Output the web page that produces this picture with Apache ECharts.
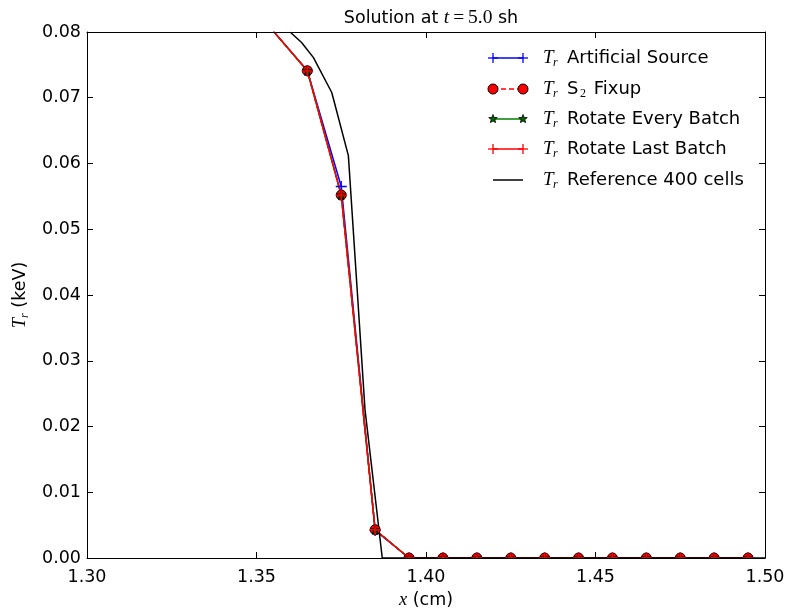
<!DOCTYPE html>
<html>
<head>
<meta charset="utf-8">
<script src="https://cdn.jsdelivr.net/npm/echarts@6/dist/echarts.min.js"></script>
<style>html,body{margin:0;padding:0;background:#fff}#c{width:789px;height:610px}</style>
</head>
<body>
<div id="c"></div>
<script>
// ---- data ----
const cellX = [1.355, 1.365, 1.375, 1.385, 1.395, 1.405, 1.415, 1.425, 1.435, 1.445, 1.455, 1.465, 1.475, 1.485, 1.495];
const artificialSource = [0.0801, 0.0741, 0.0565, 0.0042, 0, 0, 0, 0, 0, 0, 0, 0, 0, 0, 0];
const s2Fixup = [0.0801, 0.0741, 0.0552, 0.0043, 0, 0, 0, 0, 0, 0, 0, 0, 0, 0, 0];
const rotateEveryBatch = [0.0801, 0.0741, 0.0552, 0.0043, 0, 0, 0, 0, 0, 0, 0, 0, 0, 0, 0];
const rotateLastBatch = [0.0801, 0.0741, 0.0552, 0.0043, 0, 0, 0, 0, 0, 0, 0, 0, 0, 0, 0];
const refX = [1.3599, 1.3633, 1.3668, 1.3722, 1.3771, 1.3797, 1.3820, 1.3871, 1.4200, 1.4600, 1.5000];
const refT = [0.0800, 0.0784, 0.0761, 0.0708, 0.0612, 0.0408, 0.0226, 0.0000, 0.0000, 0.0000, 0.0000];
const xTicks = [1.30, 1.35, 1.40, 1.45, 1.50];
const yTicks = [0.00, 0.01, 0.02, 0.03, 0.04, 0.05, 0.06, 0.07, 0.08];
const legendNames = ['Artificial Source', 'S2 Fixup', 'Rotate Every Batch', 'Rotate Last Batch', 'Reference 400 cells'];

const FONT = 'DejaVu Sans';
const MATH = 'Liberation Serif';
const FS = 17.5;
const LFS = 18;
const pair = (xs, ys) => xs.map((x, i) => [x, ys[i]]);

const PLUS = 'path://M0,5L10,5M5,0L5,10';
const STAR = 'path://M5,0L6.18,3.38L9.76,3.45L6.9,5.62L7.94,9.05L5,7L2.06,9.05L3.1,5.62L0.24,3.45L3.82,3.38Z';

const GL = 87, GT = 32, GW = 678, GH = 526;

const chart = echarts.init(document.getElementById('c'), null, {renderer: 'canvas'});

// legend graphic
const rows = [58, 89, 119, 149, 180];
const lx0 = 493, lx1 = 523;
function plus(cx, cy, color) {
  return [
    {type: 'line', shape: {x1: cx - 5, y1: cy, x2: cx + 5, y2: cy}, style: {stroke: color, lineWidth: 1.3}, z: 20},
    {type: 'line', shape: {x1: cx, y1: cy - 5, x2: cx, y2: cy + 5}, style: {stroke: color, lineWidth: 1.3}, z: 20}
  ];
}
function starPts(cx, cy, R, r) {
  const pts = [];
  for (let k = 0; k < 10; k++) {
    const a = -Math.PI / 2 + k * Math.PI / 5;
    const rr = k % 2 === 0 ? R : r;
    pts.push([cx + rr * Math.cos(a), cy + rr * Math.sin(a)]);
  }
  return pts;
}
const g = [];
// white masks to clip markers outside plot area
g.push({type: 'rect', shape: {x: 0, y: GT + GH + 0.5, width: 789, height: 60}, style: {fill: '#fff'}, z: 3, silent: true});
g.push({type: 'rect', shape: {x: 0, y: 0, width: 789, height: GT - 0.5}, style: {fill: '#fff'}, z: 3, silent: true});
// row 0 blue +
g.push({type: 'line', shape: {x1: lx0, y1: rows[0], x2: lx1, y2: rows[0]}, style: {stroke: '#0000ff', lineWidth: 1.5}, z: 20});
g.push(...plus(lx0, rows[0], '#0000ff'), ...plus(lx1, rows[0], '#0000ff'));
// row 1 red dashed circles
g.push({type: 'line', shape: {x1: lx0, y1: rows[1], x2: lx1, y2: rows[1]}, style: {stroke: '#ff0000', lineWidth: 1.5, lineDash: [5, 3]}, z: 20});
g.push({type: 'circle', shape: {cx: lx0, cy: rows[1], r: 5}, style: {fill: '#ff0000', stroke: '#000', lineWidth: 1}, z: 21});
g.push({type: 'circle', shape: {cx: lx1, cy: rows[1], r: 5}, style: {fill: '#ff0000', stroke: '#000', lineWidth: 1}, z: 21});
// row 2 green stars
g.push({type: 'line', shape: {x1: lx0, y1: rows[2], x2: lx1, y2: rows[2]}, style: {stroke: '#008000', lineWidth: 1.5}, z: 20});
g.push({type: 'polygon', shape: {points: starPts(lx0, rows[2], 4.5, 1.9)}, style: {fill: '#006400', stroke: '#000', lineWidth: 0.8}, z: 21});
g.push({type: 'polygon', shape: {points: starPts(lx1, rows[2], 4.5, 1.9)}, style: {fill: '#006400', stroke: '#000', lineWidth: 0.8}, z: 21});
// row 3 red +
g.push({type: 'line', shape: {x1: lx0, y1: rows[3], x2: lx1, y2: rows[3]}, style: {stroke: '#ff0000', lineWidth: 1.5}, z: 20});
g.push(...plus(lx0, rows[3], '#ff0000'), ...plus(lx1, rows[3], '#ff0000'));
// row 4 black
g.push({type: 'line', shape: {x1: lx0, y1: rows[4], x2: lx1, y2: rows[4]}, style: {stroke: '#000', lineWidth: 1.5}, z: 20});
// legend texts
rows.forEach((y, i) => {
  g.push({type: 'text', x: 543, y: y, style: {text: 'T', font: 'italic ' + (LFS + 1) + 'px "' + MATH + '"', fill: '#000', verticalAlign: 'middle'}, z: 20});
  g.push({type: 'text', x: 553, y: y + 5, style: {text: 'r', font: 'italic 12px "' + MATH + '"', fill: '#000', verticalAlign: 'middle'}, z: 20});
  if (i === 1) {
    g.push({type: 'text', x: 567, y: y, style: {text: 'S', font: LFS + 'px "' + FONT + '"', fill: '#000', verticalAlign: 'middle'}, z: 20});
    g.push({type: 'text', x: 580, y: y + 5, style: {text: '2', font: '12px "' + MATH + '"', fill: '#000', verticalAlign: 'middle'}, z: 20});
    g.push({type: 'text', x: 588, y: y, style: {text: ' Fixup', font: LFS + 'px "' + FONT + '"', fill: '#000', verticalAlign: 'middle'}, z: 20});
  } else {
    g.push({type: 'text', x: 567, y: y, style: {text: legendNames[i], font: LFS + 'px "' + FONT + '"', fill: '#000', verticalAlign: 'middle'}, z: 20});
  }
});

const axisCommon = {
  type: 'value',
  axisLine: {show: true, onZero: false, lineStyle: {color: '#000', width: 1}},
  axisTick: {show: true, inside: true, length: 6, lineStyle: {color: '#000', width: 1}},
  splitLine: {show: false},
  z: 4
};

const option = {
  animation: false,
  backgroundColor: '#fff',
  title: {
    text: 'Solution at {i|t}{m|\u2009=\u20095.0} sh',
    left: 426, top: 3, textAlign: 'center', z: 10,
    textStyle: {
      fontFamily: FONT, fontSize: FS, fontWeight: 'normal', color: '#000',
      rich: {
        i: {fontFamily: MATH, fontStyle: 'italic', fontSize: FS + 2, color: '#000'},
        m: {fontFamily: MATH, fontSize: FS + 2, color: '#000'}
      }
    }
  },
  grid: {left: GL, top: GT, width: GW, height: GH, containLabel: false, outerBoundsMode: 'none'},
  xAxis: [
    Object.assign({}, axisCommon, {
      position: 'bottom', min: 1.3, max: 1.5, interval: 0.05,
      axisLabel: {show: true, margin: 13, lineHeight: 12, fontFamily: FONT, fontSize: FS, color: '#000', formatter: v => v.toFixed(2),
        hideOverlap: false, showMinLabel: true, showMaxLabel: true},
      name: '{i|x} (cm)', nameLocation: 'middle', nameGap: 31,
      nameTextStyle: {fontFamily: FONT, fontSize: FS, color: '#000',
        rich: {i: {fontFamily: MATH, fontStyle: 'italic', fontSize: FS + 1, color: '#000'}}}
    }),
    Object.assign({}, axisCommon, {
      position: 'top', min: 1.3, max: 1.5, interval: 0.05, axisLabel: {show: false}
    })
  ],
  yAxis: [
    Object.assign({}, axisCommon, {
      position: 'left', min: 0, max: 0.08, interval: 0.01,
      axisLabel: {show: true, margin: 6, lineHeight: 12, fontFamily: FONT, fontSize: FS, color: '#000', formatter: v => v.toFixed(2),
        hideOverlap: false, showMinLabel: true, showMaxLabel: true},
      name: '{i|T}{s|r} (keV)', nameLocation: 'middle', nameGap: 56, nameRotate: 90,
      nameTextStyle: {fontFamily: FONT, fontSize: FS, color: '#000',
        rich: {
          i: {fontFamily: MATH, fontStyle: 'italic', fontSize: FS + 1, color: '#000', lineHeight: 22, verticalAlign: 'middle'},
          s: {fontFamily: MATH, fontStyle: 'italic', fontSize: 12, color: '#000', lineHeight: 22, verticalAlign: 'bottom', padding: [8, 0, 0, 0]}
        }}
    }),
    Object.assign({}, axisCommon, {
      position: 'right', min: 0, max: 0.08, interval: 0.01, axisLabel: {show: false}
    })
  ],
  graphic: g,
  series: [
    {
      name: legendNames[0], type: 'line', data: pair(cellX, artificialSource), clip: true,
      lineStyle: {color: '#0000ff', width: 1.5}, symbol: PLUS, symbolSize: 11, showAllSymbol: true,
      itemStyle: {color: '#0000ff', borderColor: '#0000ff', borderWidth: 1.3}, z: 2
    },
    {
      name: legendNames[1], type: 'line', data: pair(cellX, s2Fixup), clip: true,
      lineStyle: {color: '#ff0000', width: 1.5, type: [5, 3]}, symbol: 'circle', symbolSize: 10, showAllSymbol: true,
      itemStyle: {color: '#ff0000', borderColor: '#000', borderWidth: 1}, z: 2
    },
    {
      name: legendNames[2], type: 'line', data: pair(cellX, rotateEveryBatch), clip: true,
      lineStyle: {color: '#008000', width: 1.5}, symbol: STAR, symbolSize: 9, showAllSymbol: true,
      itemStyle: {color: '#006400', borderColor: '#000', borderWidth: 0.8}, z: 2
    },
    {
      name: legendNames[3], type: 'line', data: pair(cellX, rotateLastBatch), clip: true,
      lineStyle: {color: '#ff0000', width: 1.5}, symbol: PLUS, symbolSize: 11, showAllSymbol: true,
      itemStyle: {color: '#ff0000', borderColor: '#ff0000', borderWidth: 1.3}, z: 2
    },
    {
      name: legendNames[4], type: 'line', data: pair(refX, refT), clip: true,
      lineStyle: {color: '#000', width: 1.5}, symbol: 'none', z: 2
    }
  ]
};
chart.setOption(option);
</script>
</body>
</html>
